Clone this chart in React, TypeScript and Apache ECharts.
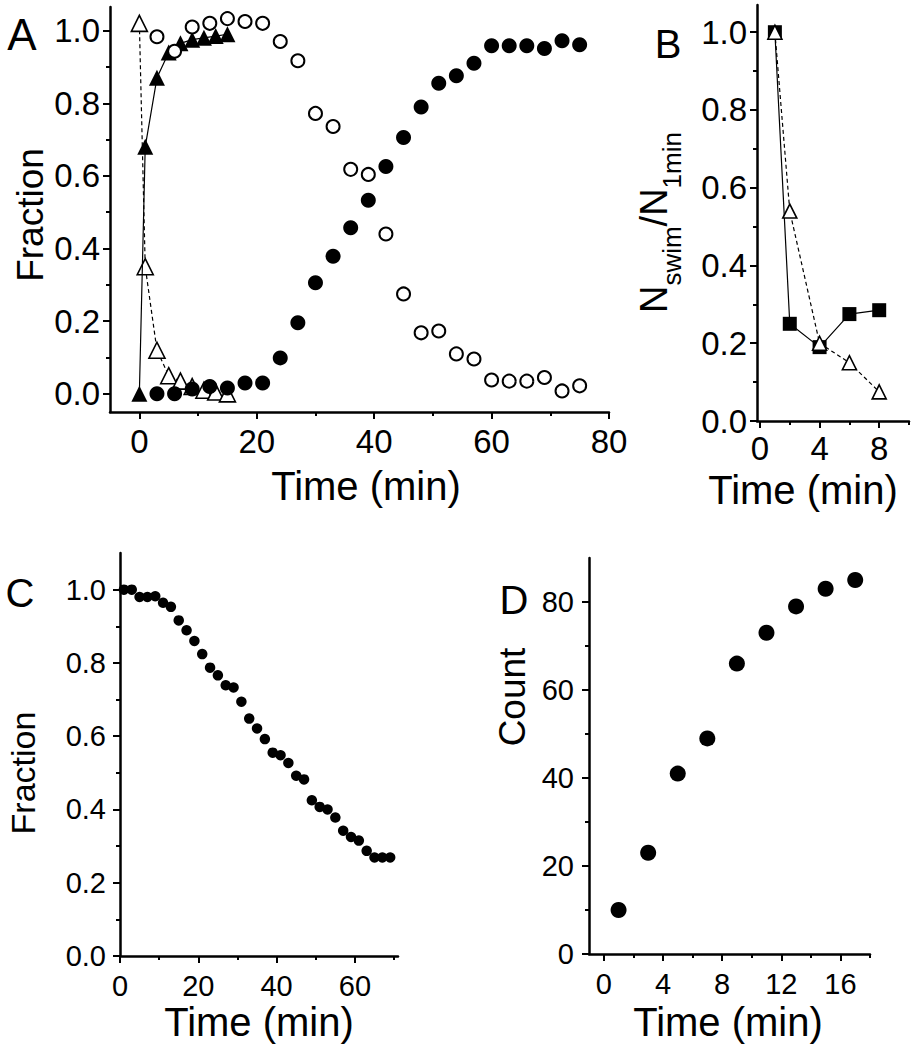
import React, { useEffect, useRef } from "react";
import * as echarts from "echarts";

// ---------- Panel A ----------
const aTriTimes = [0, 1, 3, 5, 7, 9, 11, 13, 15];
const aTriFilled = [0, 0.68, 0.87, 0.94, 0.965, 0.975, 0.98, 0.985, 0.99];
const aTriOpen = [1.02, 0.35, 0.12, 0.05, 0.035, 0.02, 0.01, 0.005, 0.0];
const aCircTimes = [3, 6, 9, 12, 15, 18, 21, 24, 27, 30, 33, 36, 39, 42, 45, 48, 51, 54, 57, 60, 63, 66, 69, 72, 75];
const aCircFilled = [0.0, 0.0, 0.013, 0.02, 0.016, 0.03, 0.03, 0.099, 0.196, 0.306, 0.379, 0.457, 0.533, 0.626, 0.706, 0.79, 0.855, 0.876, 0.91, 0.958, 0.958, 0.958, 0.951, 0.972, 0.961];
const aCircOpen = [0.983, 0.943, 1.01, 1.02, 1.033, 1.025, 1.02, 0.97, 0.917, 0.772, 0.736, 0.618, 0.604, 0.44, 0.275, 0.168, 0.173, 0.11, 0.096, 0.038, 0.035, 0.035, 0.045, 0.008, 0.022];

// ---------- Panel B ----------
const bTimes = [1, 2, 4, 6, 8];
const bSquares = [1.0, 0.25, 0.19, 0.275, 0.285];
const bTriangles = [1.0, 0.54, 0.2, 0.15, 0.075];

// ---------- Panel C ----------
const cTimes = [1, 3, 5, 7, 9, 11, 13, 15, 17, 19, 21, 23, 25, 27, 29, 31, 33, 35, 37, 39, 41, 43, 45, 47, 49, 51, 53, 55, 57, 59, 61, 63, 65, 67, 69];
const cFraction = [1.0, 1.0, 0.98, 0.98, 0.982, 0.964, 0.953, 0.916, 0.889, 0.86, 0.824, 0.787, 0.766, 0.739, 0.733, 0.694, 0.648, 0.621, 0.592, 0.555, 0.548, 0.527, 0.492, 0.482, 0.425, 0.407, 0.4, 0.378, 0.342, 0.325, 0.315, 0.287, 0.269, 0.269, 0.269];

// ---------- Panel D ----------
const dTimes = [1, 3, 5, 7, 9, 11, 13, 15, 17];
const dCount = [10, 23, 41, 49, 66, 73, 79, 83, 85];

// ---------- Tick labels ----------
const aXMajor = [0, 20, 40, 60, 80];
const aXMinor = [10, 30, 50, 70];
const fracMajor = [0, 0.2, 0.4, 0.6, 0.8, 1.0];
const fracMinor = [0.1, 0.3, 0.5, 0.7, 0.9];
const bXMajor = [0, 4, 8];
const bXMinor = [2, 6, 10];
const cXMajor = [0, 20, 40, 60];
const cXMinor = [10, 30, 50, 70];
const dXMajor = [0, 4, 8, 12, 16];
const dXMinor = [2, 6, 10, 14, 18];
const dYMajor = [0, 20, 40, 60, 80];
const dYMinor = [10, 30, 50, 70];

const FONT = "'Liberation Sans', Arial, Helvetica, sans-serif";

const zip = (xs: number[], ys: number[]) => xs.map((x, i) => [x, ys[i]]);

function axisPair(
  position: string,
  gridIndex: number,
  min: number,
  max: number,
  majors: number[],
  minors: number[],
  fmt: (v: number) => string,
  fontSize: number,
  margin: number
) {
  const major = {
    type: "value",
    position,
    gridIndex,
    min,
    max,
    splitLine: { show: false },
    axisLine: { show: true, onZero: false, lineStyle: { color: "#000", width: 2.5 } },
    axisTick: { show: true, inside: false, length: 7, customValues: majors, lineStyle: { color: "#000", width: 2 } },
    axisLabel: { show: true, customValues: majors, formatter: fmt, color: "#000", fontSize, fontFamily: FONT, margin },
  };
  const minor = {
    type: "value",
    position,
    gridIndex,
    min,
    max,
    splitLine: { show: false },
    axisLine: { show: false, onZero: false },
    axisTick: { show: true, inside: false, length: 4, customValues: minors, lineStyle: { color: "#000", width: 2 } },
    axisLabel: { show: false },
  };
  return [major, minor];
}

const f1 = (v: number) => v.toFixed(1);
const f0 = (v: number) => String(Math.round(v));

function txt(text: string, x: number, y: number, fontSize: number, rotate = false) {
  return {
    type: "text",
    x,
    y,
    rotation: rotate ? Math.PI / 2 : 0,
    style: { text, fontSize, fontFamily: FONT, fill: "#000", align: "center", verticalAlign: "middle" },
  };
}

export default function App() {
  const ref = useRef<HTMLDivElement>(null);
  useEffect(() => {
    if (!ref.current) return;
    const chart = echarts.init(ref.current, null, { renderer: "svg", width: 913, height: 1050 });

    const xAxes = [
      ...axisPair("bottom", 0, -5, 80, aXMajor, aXMinor, f0, 33, 13),
      ...axisPair("bottom", 1, -0.2, 10, bXMajor, bXMinor, f0, 33, 11),
      ...axisPair("bottom", 2, 0, 71, cXMajor, cXMinor, f0, 29, 15),
      ...axisPair("bottom", 3, -1, 18, dXMajor, dXMinor, f0, 29, 15),
    ];
    const yAxes = [
      ...axisPair("left", 0, -0.05, 1.065, fracMajor, fracMinor, f1, 33, 10),
      ...axisPair("left", 1, 0, 1.07, fracMajor, fracMinor, f1, 33, 10),
      ...axisPair("left", 2, 0, 1.1, fracMajor, fracMinor, f1, 29, 14),
      ...axisPair("left", 3, 0, 90, dYMajor, dYMinor, f0, 29, 15),
    ];

    const openStyle = { color: "#fff", borderColor: "#000", borderWidth: 1.6, opacity: 1 };
    const fillStyle = { color: "#000", borderColor: "#000", borderWidth: 0, opacity: 1 };

    const series: any[] = [
      // Panel A
      {
        type: "line", xAxisIndex: 0, yAxisIndex: 0, data: zip(aTriTimes, aTriOpen),
        symbol: "triangle", symbolSize: 16, itemStyle: openStyle,
        lineStyle: { color: "#000", width: 1.2, type: [4, 3] }, z: 3,
      },
      {
        type: "line", xAxisIndex: 0, yAxisIndex: 0, data: zip(aTriTimes, aTriFilled),
        symbol: "triangle", symbolSize: 16, itemStyle: fillStyle,
        lineStyle: { color: "#000", width: 1.2 }, z: 4,
      },
      {
        type: "scatter", xAxisIndex: 0, yAxisIndex: 0, data: zip(aCircTimes, aCircOpen),
        symbol: "circle", symbolSize: 13, itemStyle: { color: "#fff", borderColor: "#000", borderWidth: 2, opacity: 1 }, z: 5,
      },
      {
        type: "scatter", xAxisIndex: 0, yAxisIndex: 0, data: zip(aCircTimes, aCircFilled),
        symbol: "circle", symbolSize: 15, itemStyle: fillStyle, z: 6,
      },
      // Panel B
      {
        type: "line", xAxisIndex: 2, yAxisIndex: 2, data: zip(bTimes, bSquares),
        symbol: "rect", symbolSize: 14, itemStyle: fillStyle,
        lineStyle: { color: "#000", width: 1.2 }, z: 3,
      },
      {
        type: "line", xAxisIndex: 2, yAxisIndex: 2, data: zip(bTimes, bTriangles),
        symbol: "triangle", symbolSize: 14, itemStyle: openStyle,
        lineStyle: { color: "#000", width: 1.2, type: [4, 3] }, z: 4,
      },
      // Panel C
      {
        type: "scatter", xAxisIndex: 4, yAxisIndex: 4, data: zip(cTimes, cFraction),
        symbol: "circle", symbolSize: 10.5, itemStyle: fillStyle,
      },
      // Panel D
      {
        type: "scatter", xAxisIndex: 6, yAxisIndex: 6, data: zip(dTimes, dCount),
        symbol: "circle", symbolSize: 16, itemStyle: fillStyle,
      },
    ];

    // B rotated title with subscripts
    const bTitle = {
      type: "group",
      x: 654,
      y: 313,
      rotation: Math.PI / 2,
      children: [
        { type: "text", x: 0, y: 0, style: { text: "N", fontSize: 38, fontFamily: FONT, fill: "#000", align: "left", verticalAlign: "middle" } },
        { type: "text", x: 27.4, y: 18, style: { text: "swim", fontSize: 26, fontFamily: FONT, fill: "#000", align: "left", verticalAlign: "middle" } },
        { type: "text", x: 86.6, y: 0, style: { text: "/N", fontSize: 38, fontFamily: FONT, fill: "#000", align: "left", verticalAlign: "middle" } },
        { type: "text", x: 124.6, y: 18, style: { text: "1min", fontSize: 26, fontFamily: FONT, fill: "#000", align: "left", verticalAlign: "middle" } },
      ],
    };

    const option: any = {
      animation: false,
      backgroundColor: "#fff",
      grid: [
        { left: 110, top: 7, width: 499, height: 405 },
        { left: 757, top: 5, width: 152, height: 416 },
        { left: 120, top: 553, width: 278, height: 403 },
        { left: 589, top: 558, width: 281, height: 396 },
      ],
      xAxis: xAxes,
      yAxis: yAxes,
      series,
      graphic: [
        txt("A", 22, 34, 44),
        txt("B", 668, 44, 40),
        txt("C", 20, 593, 40),
        txt("D", 514, 600, 40),
        txt("Fraction", 30, 215, 37, true),
        txt("Time (min)", 366, 486, 40),
        txt("Time (min)", 803, 490, 40),
        txt("Fraction", 23, 773, 34, true),
        txt("Time (min)", 259, 1022, 40),
        txt("Time (min)", 728, 1022, 40),
        txt("Count", 512, 697, 37, true),
        bTitle,
      ],
    };
    chart.setOption(option);
    return () => chart.dispose();
  }, []);
  return <div ref={ref} style={{ position: "absolute", left: 0, top: 0, width: 913, height: 1050 }} />;
}
